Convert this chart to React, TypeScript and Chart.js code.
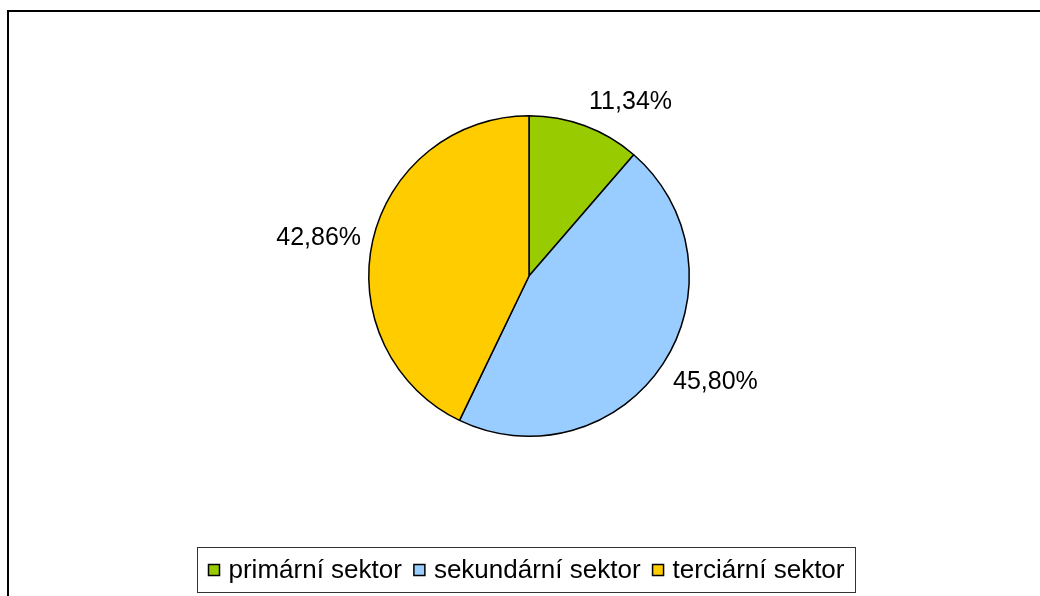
import React, { useEffect, useRef } from "react";
import { Chart, registerables } from "chart.js";

Chart.register(...registerables);

const categories = ["primární sektor", "sekundární sektor", "terciární sektor"];
const values = [11.34, 45.8, 42.86];
const valueLabels = ["11,34%", "45,80%", "42,86%"];
const colors = ["#99CC00", "#99CCFF", "#FFCC00"];

const FONT = '"Liberation Sans", Arial, sans-serif';

const outsideLabels = {
  id: "outsideLabels",
  afterDatasetsDraw(chart: any) {
    const ctx = chart.ctx;
    const meta = chart.getDatasetMeta(0);
    ctx.save();
    ctx.font = `25px ${FONT}`;
    ctx.fillStyle = "#000";
    meta.data.forEach((arc: any, i: number) => {
      const p = arc.getProps(["startAngle", "endAngle", "outerRadius", "x", "y"], true);
      const mid = (p.startAngle + p.endAngle) / 2;
      const c = Math.cos(mid);
      const s = Math.sin(mid);
      const r = p.outerRadius + 12;
      const px = p.x + r * c;
      const py = p.y + r * s;
      const h = 24;
      const t = Math.min(1, Math.max(0, (Math.abs(s) - 0.3) / 0.2));
      const off = (h / 2) * Math.sign(s) * t;
      ctx.textAlign = c >= 0 ? "left" : "right";
      ctx.textBaseline = "middle";
      ctx.fillText(valueLabels[i], px, py + off);
    });
    ctx.restore();
  },
};

const boxLegend = {
  id: "boxLegend",
  afterDraw(chart: any) {
    const ctx = chart.ctx;
    ctx.save();
    ctx.font = `26px ${FONT}`;
    const sq = 11;
    const gap1 = 9;
    const gap2 = 12;
    const pad = 11;
    const widths = categories.map((t) => ctx.measureText(t).width);
    let total = pad * 2 + gap2 * (categories.length - 1);
    widths.forEach((w) => (total += sq + gap1 + w));
    const cx = 526;
    const top = 547;
    const height = 45;
    const left = Math.round(cx - total / 2) + 0.5;
    ctx.strokeStyle = "#333";
    ctx.lineWidth = 1;
    ctx.strokeRect(left, top + 0.5, Math.round(total), height);
    const midY = top + height / 2 + 0.5;
    let x = left + pad;
    ctx.textBaseline = "middle";
    ctx.textAlign = "left";
    categories.forEach((t, i) => {
      ctx.fillStyle = colors[i];
      ctx.fillRect(x, midY - sq / 2, sq, sq);
      ctx.strokeStyle = "#000";
      ctx.lineWidth = 1.5;
      ctx.strokeRect(x, midY - sq / 2, sq, sq);
      x += sq + gap1;
      ctx.fillStyle = "#000";
      ctx.fillText(t, x, midY + 1);
      x += widths[i] + gap2;
    });
    ctx.restore();
  },
};

export default function App() {
  const ref = useRef<HTMLCanvasElement>(null);
  useEffect(() => {
    if (!ref.current) return;
    const chart = new Chart(ref.current, {
      type: "pie",
      data: {
        labels: categories,
        datasets: [
          {
            data: values,
            backgroundColor: colors,
            borderColor: "#000",
            borderWidth: 1.5,
          },
        ],
      },
      options: {
        responsive: false,
        animation: false,
        layout: { padding: { top: 115, bottom: 159, left: 18, right: 0 } },
        plugins: {
          legend: { display: false },
          tooltip: { enabled: false },
        },
      },
      plugins: [outsideLabels, boxLegend],
    });
    return () => chart.destroy();
  }, []);
  return (
    <>
      <div
        style={{
          position: "fixed",
          left: 7,
          top: 10,
          right: 0,
          bottom: 0,
          borderTop: "2px solid #000",
          borderLeft: "2px solid #000",
          background: "#fff",
        }}
      />
      <canvas
        ref={ref}
        width={1040}
        height={596}
        style={{ position: "fixed", left: 0, top: 0, width: 1040, height: 596 }}
      />
    </>
  );
}
